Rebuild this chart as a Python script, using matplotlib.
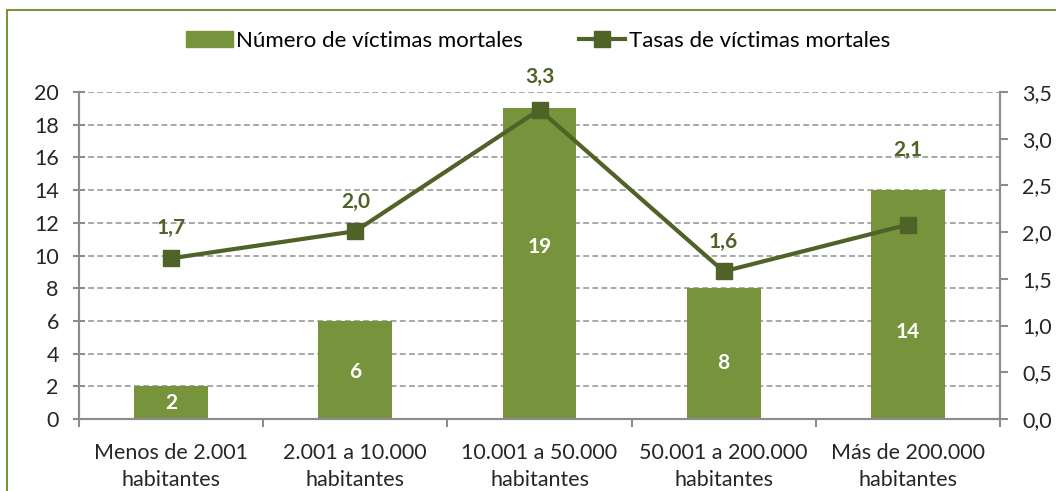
import matplotlib.pyplot as plt
from matplotlib.lines import Line2D
from matplotlib.patches import Patch, Rectangle
from matplotlib.ticker import FuncFormatter
import numpy as np

plt.rcParams['font.family'] = ['Lato', 'DejaVu Sans']

categories = ['Menos de 2.001\nhabitantes', '2.001 a 10.000\nhabitantes',
              '10.001 a 50.000\nhabitantes', '50.001 a 200.000\nhabitantes',
              'Más de 200.000\nhabitantes']
victimas = [2, 6, 19, 8, 14]
tasas = [1.72, 2.01, 3.31, 1.58, 2.08]
tasas_txt = ['1,7', '2,0', '3,3', '1,6', '2,1']

bar_color = '#77933C'
line_color = '#4F6228'
grey = '#8C8C8C'

# where the labels sit (manual, like in the original)
bar_label_y = [1.0, 2.9, 10.5, 3.4, 5.3]
line_label_off = [21.5, 21, 23.5, 21.5, 54]

fig = plt.figure(figsize=(10.56, 4.91), dpi=100)
ax = fig.add_axes([79/1056, 1 - 419/491, 921/1056, 327/491])
ax2 = ax.twinx()

x = np.arange(len(categories))
ax.bar(x, victimas, width=0.40, color=bar_color, zorder=2)
for xi, v, yl in zip(x, victimas, bar_label_y):
    ax.text(xi, yl, str(v), ha='center', va='center', color='white',
            fontsize=15, fontweight='bold', zorder=3)

ax.set_xlim(-0.5, len(categories) - 0.5)
ax.set_ylim(0, 20)
ax.set_yticks(range(0, 21, 2))
ax.yaxis.grid(True, linestyle=(0, (3.5, 2)), color='#999999', linewidth=1.2, zorder=0)
ax.set_axisbelow(True)
ax.set_xticks(np.arange(-0.5, len(categories), 1.0))
ax.set_xticklabels([])
ax.set_xticks(x, minor=True)
ax.set_xticklabels(categories, minor=True, fontsize=15.5, color='#262626',
                   linespacing=1.45)
ax.tick_params(axis='x', which='minor', length=0, pad=17)
ax.tick_params(axis='x', which='major', length=6, color=grey, width=1.5)
ax.tick_params(axis='y', length=9, color=grey, width=1.5, labelsize=15.5,
               labelcolor='#262626', direction='inout', pad=10)

ax2.plot(x, tasas, color=line_color, linewidth=3, marker='s', markersize=11, zorder=4)
for xi, t, s, off in zip(x, tasas, tasas_txt, line_label_off):
    ax2.annotate(s, (xi, t), xytext=(0, off), textcoords='offset points',
                 ha='center', va='center', color=line_color, fontsize=15,
                 fontweight='bold')
ax2.set_ylim(0, 3.5)
ax2.set_yticks(np.arange(0, 3.51, 0.5))
ax2.yaxis.set_major_formatter(FuncFormatter(lambda v, p: f'{v:.1f}'.replace('.', ',')))
ax2.tick_params(axis='y', length=6, color=grey, width=1.5, labelsize=15.5,
                labelcolor='#262626', pad=10)

for a in (ax, ax2):
    a.spines['top'].set_visible(False)
    for s in ('left', 'right', 'bottom'):
        a.spines[s].set_color(grey)
        a.spines[s].set_linewidth(1.5)

handles = [Patch(color=bar_color),
           Line2D([], [], color=line_color, linewidth=3, marker='s', markersize=11)]
fig.legend(handles, ['Número de víctimas mortales', 'Tasas de víctimas mortales'],
           loc='center', bbox_to_anchor=(538/1056, 1 - 41/491), ncol=2, frameon=False,
           fontsize=16, handlelength=2.1, handletextpad=0.15, columnspacing=2.5)

# outer chart frame (green, left and top visible)
fig.patches.append(Rectangle((7/1056, -0.05), 1.1, 1 - 10/491 + 0.05,
                             transform=fig.transFigure, fill=False,
                             edgecolor=bar_color, linewidth=1.5))

fig.savefig('out.png', dpi=100)
